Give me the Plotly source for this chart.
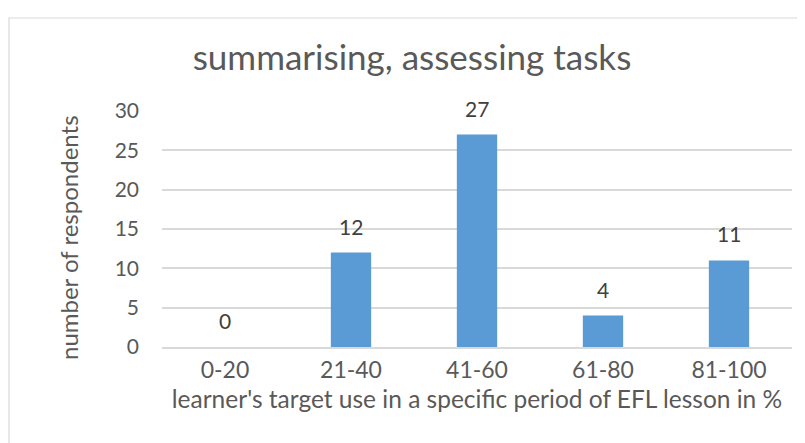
import plotly.graph_objects as go

# Data
ranges = ["0-20", "21-40", "41-60", "61-80", "81-100"]
respondents = [0, 12, 27, 4, 11]
y_ticks = [0, 5, 10, 15, 20, 25, 30]

FONT = "Lato"
TXT = "#595959"

# page body has an 8px margin, so the figure is 8px smaller than the window
W, H = 797, 435
L, R, T, B = 154, 13, 103, 96
plot_w = W - L - R
plot_h = H - T - B

fig = go.Figure()

fig.add_trace(go.Bar(
    x=ranges,
    y=respondents,
    marker=dict(color="#5B9BD5", line=dict(width=0)),
    hoverinfo="x+y",
))

# data labels above the bars
for cat, val in zip(ranges, respondents):
    fig.add_annotation(
        x=cat, y=val, text=str(val), showarrow=False,
        yanchor="bottom", yshift=12,
        font=dict(family=FONT, size=21, color="#404040"),
    )

# y axis title (sits a bit below the plot centre in the reference)
fig.add_annotation(
    text="number of respondents", textangle=-90, showarrow=False,
    xref="paper", yref="paper",
    x=(60 - L) / plot_w, y=(T + plot_h - 230) / plot_h,
    xanchor="center", yanchor="middle",
    font=dict(family=FONT, size=24, color=TXT),
)

# chart frame (light gray border, cropped on right / bottom)
fig.add_shape(
    type="rect", xref="paper", yref="paper",
    x0=(1 - L) / plot_w, x1=1.2, y0=-0.6, y1=(T + plot_h - 10) / plot_h,
    line=dict(color="#D9D9D9", width=1.2), fillcolor="rgba(0,0,0,0)",
    layer="below",
)

fig.update_layout(
    width=W, height=H,
    margin=dict(l=L, r=R, t=T, b=B),
    paper_bgcolor="white", plot_bgcolor="white",
    bargap=0.68,
    showlegend=False,
    title=dict(
        text="summarising, assessing tasks",
        x=404 / W, xanchor="center", y=1 - 50 / H, yanchor="middle",
        font=dict(family=FONT, size=35, color=TXT),
    ),
    font=dict(family=FONT, color=TXT),
)

fig.update_xaxes(
    showgrid=False, showline=True, linecolor="#D9D9D9", linewidth=1.5,
    ticks="", ticklabelstandoff=2,
    tickfont=dict(family=FONT, size=23, color=TXT),
    title=dict(text="learner's target use in a specific period of EFL lesson in %",
               font=dict(family=FONT, size=24.5, color=TXT), standoff=9),
)

fig.update_yaxes(
    range=[0, 30], tickvals=y_ticks, showgrid=True, gridcolor="#D9D9D9",
    gridwidth=1.5, zeroline=False, showline=False, ticks="",
    ticklabelstandoff=22,
    tickfont=dict(family=FONT, size=21, color=TXT),
)

fig.write_html("out.html")
